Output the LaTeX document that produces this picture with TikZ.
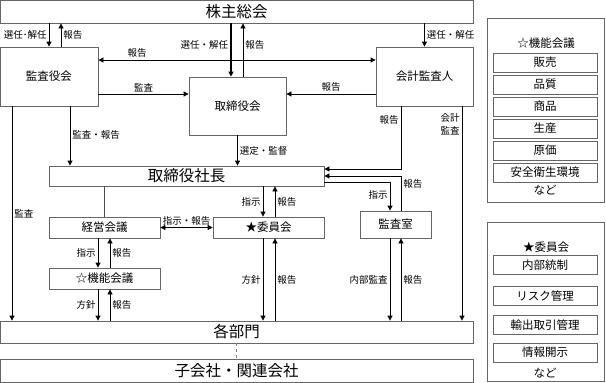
\documentclass[tikz,border=0pt]{standalone}
\usepackage{fontspec}
\setmainfont{Noto Sans CJK JP}
\usepackage{xcolor}
\usetikzlibrary{arrows.meta}

\begin{document}
\begin{tikzpicture}[x=1pt,y=-1pt,
  box/.style={draw=black!60, line width=0.8pt, inner sep=0pt, font=\fontsize{11.5}{12}\selectfont},
  bigbox/.style={box, font=\fontsize{15.5}{16}\selectfont, minimum width=473, anchor=center},
  sbox/.style={box, minimum width=104, minimum height=19},
  lbl/.style={font=\fontsize{9.5}{13}\selectfont, inner sep=2pt},
  arr/.style={-{Triangle[length=5pt,width=5pt]}, line width=0.8pt},
  darr/.style={{Triangle[length=5pt,width=5pt]}-{Triangle[length=5pt,width=5pt]}, line width=0.8pt},
  ln/.style={line width=0.8pt, draw=black!70}]
\useasboundingbox (0,0) rectangle (606,383);

% lanes
\foreach \x in {12,61,70,98,110,231,243,263,275,390,401,462}
	\coordinate (v\x) at (\x,0);
\foreach \y in {60,94,169,176,182}
	\coordinate (h\y) at (0,\y);

\node[bigbox, minimum height=23] (kabu) at (236.5,11.5) {株主総会};
\node[box, minimum width=98, minimum height=59] (kansayaku) at (49,76.5) {監査役会};
\node[box, minimum width=97, minimum height=58] (torishimari) at (237.5,106) {取締役会};
\node[box, minimum width=97, minimum height=59] (kaikei) at (424.5,76.5) {会計監査人};
\node[box, minimum width=275, minimum height=20, font=\fontsize{15.5}{16}\selectfont] (shacho) at (186.5,176) {取締役社長};
\node[box, minimum width=111, minimum height=21] (keiei) at (104.5,227.5) {経営会議};
\node[box, minimum width=111, minimum height=21] (iinkai) at (268.5,227.5) {★委員会};
\node[box, minimum width=71, minimum height=27] (kansashitsu) at (395.5,224.5) {監査室};
\node[box, minimum width=111, minimum height=21] (kino) at (104.5,278.5) {☆機能会議};
\node[bigbox, minimum height=22] (bumon) at (236.5,332) {各部門};
\node[bigbox, minimum height=23] (kogaisha) at (236.5,370.5) {子会社・関連会社};

% shareholders
\draw[arr] (kansayaku.north |- kabu.south) -- (kansayaku.north) node[lbl,midway,left] {選任･解任};
\draw[arr] (v61 |- kansayaku.north) -- (v61 |- kabu.south) node[lbl,midway,right] {報告};
\draw[arr, line width=2pt] (v231 |- kabu.south) -- (v231 |- torishimari.north) node[lbl,pos=0.4,left] {選任・解任};
\draw[arr] (v243 |- torishimari.north) -- (v243 |- kabu.south) node[lbl,pos=0.6,right] {報告};
\draw[arr] (kaikei.north |- kabu.south) -- (kaikei.north) node[lbl,midway,right] {選任・解任};

% audit
\draw[darr] (h60 -| kansayaku.east) -- (h60 -| kaikei.west) node[lbl,pos=0.14,above] {報告};
\draw[arr] (h94 -| kansayaku.east) -- (h94 -| torishimari.west) node[lbl,midway,above] {監査};
\draw[arr] (h94 -| kaikei.west) -- (h94 -| torishimari.east) node[lbl,midway,above] {報告};
\draw[arr] (v12 |- kansayaku.south) -- (v12 |- bumon.north) node[lbl,midway,right] {監査};
\draw[arr] (v70 |- kansayaku.south) -- (v70 |- shacho.north) node[lbl,pos=0.48,right] {監査・報告};
\draw[arr] (torishimari.south) -- (torishimari.south |- shacho.north) node[lbl,midway,right] {選定・監督};
\draw[arr] (v401 |- kaikei.south) |- (shacho.east |- h169) node[lbl,pos=0.11,left] {報告};
\draw[arr] (v462 |- kaikei.south) -- (v462 |- bumon.north) node[lbl,pos=0.085,left,align=center] {会計\\監査};

% president
\draw[arr] (v401 |- kansashitsu.north) |- (shacho.east |- h176) node[lbl,pos=0.39,right] {報告};
\draw[arr] (shacho.east |- h182) -| (v390 |- kansashitsu.north) node[lbl,pos=0.72,left] {指示};
\draw[ln] (keiei.north |- shacho.south) -- (keiei.north);
\draw[arr] (v263 |- shacho.south) -- (v263 |- iinkai.north) node[lbl,midway,left] {指示};
\draw[arr] (v275 |- iinkai.north) -- (v275 |- shacho.south) node[lbl,midway,right] {報告};
\draw[darr] (keiei.east) -- (iinkai.west) node[lbl,midway,above] {指示・報告};

% departments
\draw[arr] (v98 |- keiei.south) -- (v98 |- kino.north) node[lbl,midway,left] {指示};
\draw[arr] (v110 |- kino.north) -- (v110 |- keiei.south) node[lbl,midway,right] {報告};
\draw[arr] (v98 |- kino.south) -- (v98 |- bumon.north) node[lbl,midway,left] {方針};
\draw[arr] (v110 |- bumon.north) -- (v110 |- kino.south) node[lbl,midway,right] {報告};
\draw[arr] (v263 |- iinkai.south) -- (v263 |- bumon.north) node[lbl,midway,left] {方針};
\draw[arr] (v275 |- bumon.north) -- (v275 |- iinkai.south) node[lbl,midway,right] {報告};
\draw[arr] (v390 |- kansashitsu.south) -- (v390 |- bumon.north) node[lbl,midway,left] {内部監査};
\draw[arr] (v401 |- bumon.north) -- (v401 |- kansashitsu.south) node[lbl,midway,right] {報告};
\draw[ln, dashed, draw=black!50] (bumon.south) -- (kogaisha.north);

% legend panels
\node[box, minimum width=117, minimum height=184] (fpanel) at (546,110) {};
\node[font=\fontsize{11.5}{12}\selectfont] (ftitle) at (546,43) {☆機能会議};
\foreach \t [count=\i] in {販売,品質,商品,生産,原価,安全衛生環境}
	\node[sbox] (f\i) at (545,40.5+22*\i) {\t};
\node[font=\fontsize{11.5}{12}\selectfont] (fetc) at (545,190) {など};

\node[box, minimum width=117, minimum height=159] (ipanel) at (546,301.5) {};
\node[font=\fontsize{11.5}{12}\selectfont] (ititle) at (546,247) {★委員会};
\foreach \t/\y [count=\i] in {内部統制/265,リスク管理/296,輸出取引管理/325,情報開示/352.5}
	\node[sbox] (i\i) at (545,\y) {\t};
\node[font=\fontsize{11.5}{12}\selectfont] (ietc) at (545,373) {など};

\end{tikzpicture}
\end{document}
